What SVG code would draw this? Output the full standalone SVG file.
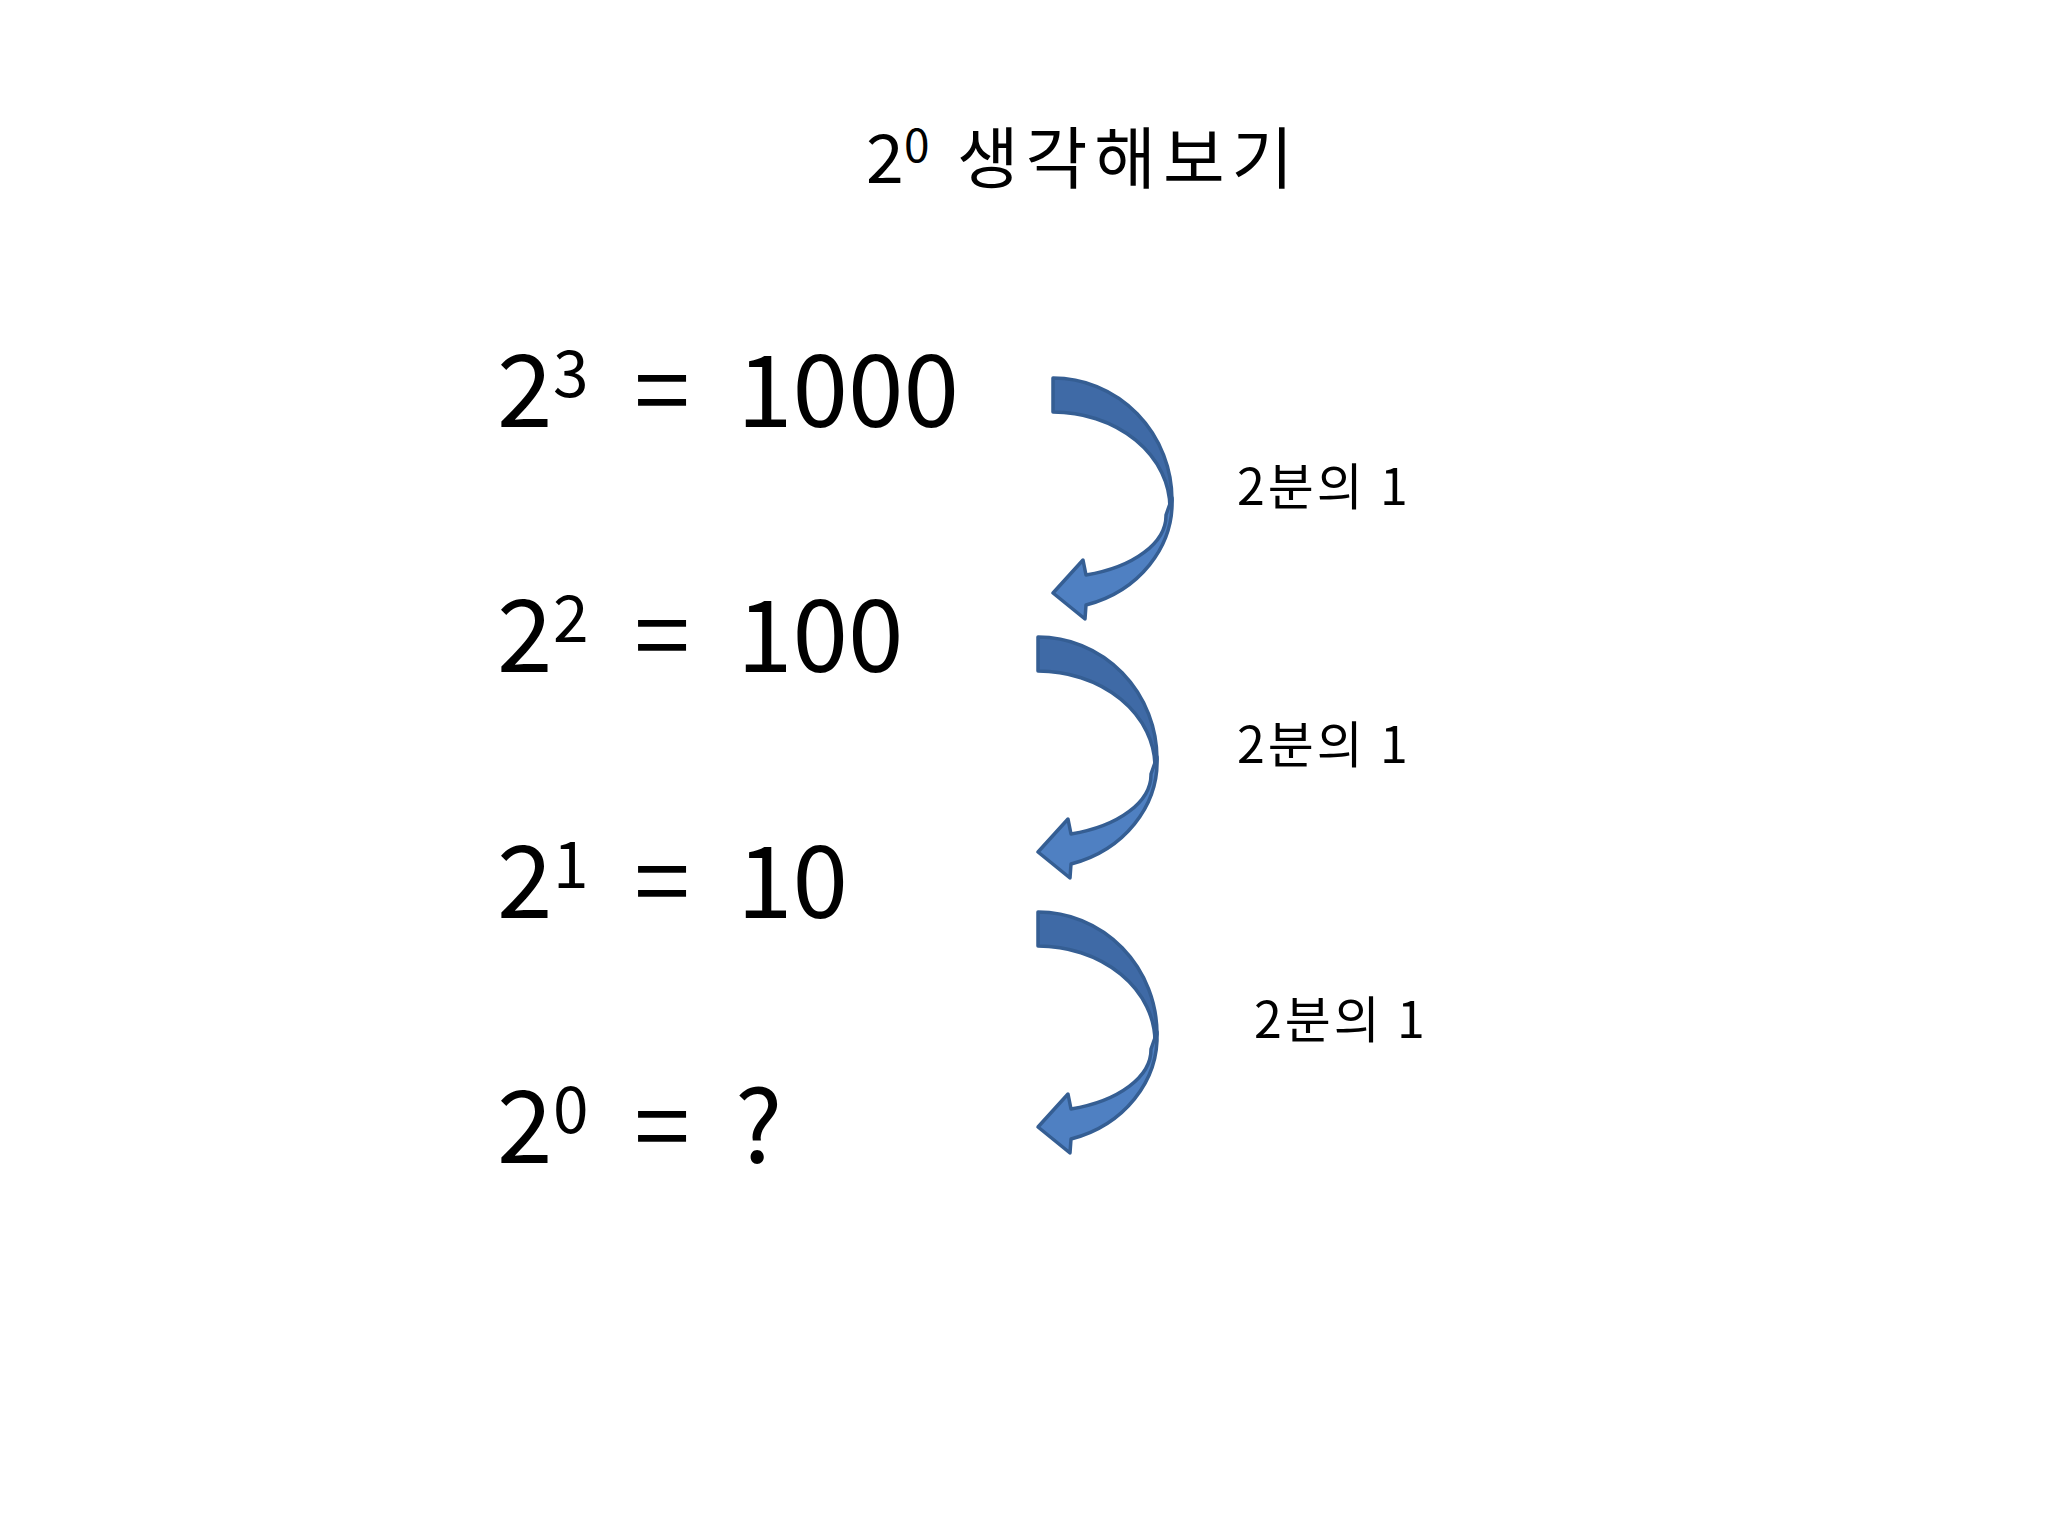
<svg xmlns="http://www.w3.org/2000/svg" xmlns:xlink="http://www.w3.org/1999/xlink" width="2048" height="1536" viewBox="0 0 2048 1536">
  <style>
    .t { font-family: "Noto Sans CJK KR", "Noto Sans", sans-serif; fill: #000; }
    .big { font-size: 100px; }
    .sup { font-size: 64px; }
    .lbl { font-size: 50px; letter-spacing: 3px; }
    .back { fill: #3F6AA6; stroke: #355E93; stroke-width: 3.5; stroke-linejoin: round; }
    .front { fill: #4F80C2; stroke: #355E93; stroke-width: 3.5; stroke-linejoin: round; }
  </style>
  <defs>
    <g id="curvedArrow">
      <path class="back" d="M0,0 A119,122 0 0 1 119,122 L117,130 A117,96 0 0 0 0,34 Z"/>
      <path class="front" d="M119,120 A119,107 0 0 1 33,227 L32,241 L0,215 L30,182 L33,197 A112,62 0 0 0 113,137 Z"/>
    </g>
  </defs>
  <rect width="2048" height="1536" fill="#ffffff"/>

  <g id="title">
    <text class="t" x="866" y="183" font-size="68">2</text>
    <text class="t" x="904" y="162" font-size="46">0</text>
    <text class="t" x="957" y="183" font-size="67" letter-spacing="7">생각해보기</text>
  </g>

  <g id="eq3">
    <text class="t big" x="497" y="427">2</text>
    <text class="t sup" x="553" y="397">3</text>
    <text class="t big" x="662" y="427" text-anchor="middle">=</text>
    <text class="t big" x="737" y="427">1000</text>
  </g>
  <g id="eq2">
    <text class="t big" x="497" y="672">2</text>
    <text class="t sup" x="553" y="642">2</text>
    <text class="t big" x="662" y="672" text-anchor="middle">=</text>
    <text class="t big" x="737" y="672">100</text>
  </g>
  <g id="eq1">
    <text class="t big" x="497" y="918">2</text>
    <text class="t sup" x="553" y="888">1</text>
    <text class="t big" x="662" y="918" text-anchor="middle">=</text>
    <text class="t big" x="737" y="918">10</text>
  </g>
  <g id="eq0">
    <text class="t big" x="497" y="1163">2</text>
    <text class="t sup" x="553" y="1133">0</text>
    <text class="t big" x="662" y="1163" text-anchor="middle">=</text>
    <text class="t big" x="735" y="1163">?</text>
  </g>

  <g id="connectors">
    <use id="arrow1" xlink:href="#curvedArrow" href="#curvedArrow" transform="translate(1053,378)"/>
    <use id="arrow2" xlink:href="#curvedArrow" href="#curvedArrow" transform="translate(1038,637)"/>
    <use id="arrow3" xlink:href="#curvedArrow" href="#curvedArrow" transform="translate(1038,912)"/>
    <text class="t lbl" x="1237" y="505">2분의 1</text>
    <text class="t lbl" x="1237" y="763">2분의 1</text>
    <text class="t lbl" x="1254" y="1038">2분의 1</text>
  </g>
</svg>
